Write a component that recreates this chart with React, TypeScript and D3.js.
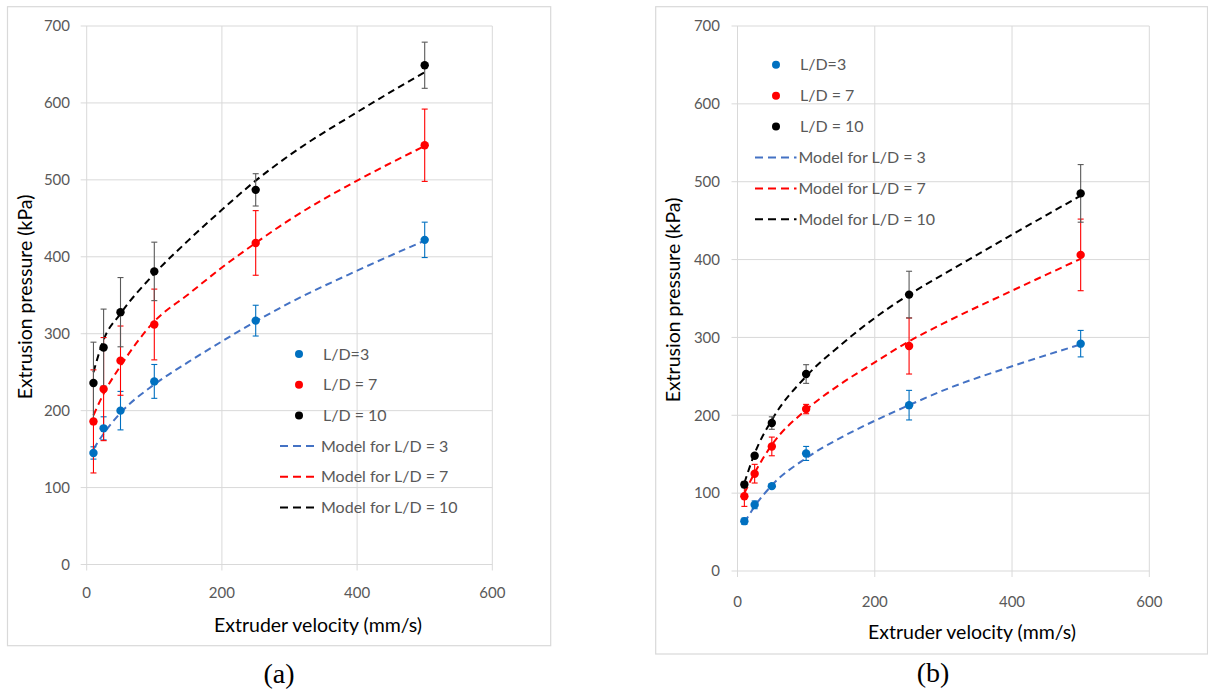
import React from "react";
import * as d3 from "d3";

// ---------- data ----------
const velocities = [10, 25, 50, 100, 250, 500];
const modelVelocities = [10, 25, 50, 100, 150, 200, 250, 300, 400, 500];

const xTicks = [0, 200, 400, 600];
const yTicks = [0, 100, 200, 300, 400, 500, 600, 700];

const legendLabels = ["L/D=3", "L/D = 7", "L/D = 10", "Model for L/D = 3", "Model for L/D = 7", "Model for L/D = 10"];

// panel (a)
const aLD3 = [145, 177, 200, 238, 317, 422];
const aLD3Err = [8, 15, 25, 22, 20, 23];
const aLD7 = [186, 228, 265, 312, 418, 545];
const aLD7Err = [67, 67, 45, 46, 42, 47];
const aLD10 = [236, 282, 328, 381, 487, 649];
const aLD10Err = [53, 50, 45, 38, 21, 30];
const aModel3 = [150, 170, 197, 234, 263, 290, 316, 340, 382, 421];
const aModel7 = [194, 222, 258, 316, 351, 386, 418, 448, 499, 544];
const aModel10 = [250, 292, 326, 378, 421, 461, 499, 532, 588, 640];

// panel (b)
const bLD3 = [64, 85, 109, 151, 213, 292];
const bLD3Err = [4, 5, 3, 9, 19, 17];
const bLD7 = [96, 125, 160, 208, 289, 406];
const bLD7Err = [13, 12, 12, 6, 36, 46];
const bLD10 = [111, 148, 190, 253, 355, 485];
const bLD10Err = [4, 3, 8, 12, 30, 37];
const bModel3 = [62, 83, 110, 145, 171, 193, 213, 232, 263, 291];
const bModel7 = [100, 126, 162, 207, 240, 268, 295, 318, 360, 401];
const bModel10 = [113, 151, 194, 250, 290, 325, 355, 381, 432, 482];

// ---------- styles ----------
const pointColors = ["#0070C0", "#FF0000", "#000000"];
const errColors = ["#0070C0", "#FF0000", "#595959"];
const modelColors = ["#4472C4", "#FF0000", "#000000"];
const FONT = "Lato, 'Open Sans', sans-serif";

type PanelCfg = {
  frame: [number, number, number, number];
  plot: { left: number; right: number; top: number; bottom: number };
  xLabelY: number;
  yLabelX: number;
  xTitle: [number, number];
  yTitle: [number, number];
  legend: { markerX: number; lineX0: number; lineX1: number; textX: number; y0: number; dy: number };
  caption: [string, number, number];
  pts: number[][];
  errs: number[][];
  models: number[][];
};

const panels: PanelCfg[] = [
  {
    frame: [7.5, 6.7, 550.7, 645.7],
    plot: { left: 86.7, right: 492.3, top: 26, bottom: 564.5 },
    xLabelY: 593,
    yLabelX: 70,
    xTitle: [318, 625],
    yTitle: [25, 297],
    legend: { markerX: 299, lineX0: 280, lineX1: 319, textX: 323, y0: 354, dy: 30.7 },
    caption: ["(a)", 279, 673],
    pts: [aLD3, aLD7, aLD10],
    errs: [aLD3Err, aLD7Err, aLD10Err],
    models: [aModel3, aModel7, aModel10],
  },
  {
    frame: [655.7, 6.7, 1207.5, 654],
    plot: { left: 737.5, right: 1149.3, top: 26, bottom: 571 },
    xLabelY: 601.5,
    yLabelX: 720,
    xTitle: [972, 632],
    yTitle: [672.7, 300],
    legend: { markerX: 776, lineX0: 755, lineX1: 796.5, textX: 800, y0: 64.8, dy: 30.9 },
    caption: ["(b)", 933, 672],
    pts: [bLD3, bLD7, bLD10],
    errs: [bLD3Err, bLD7Err, bLD10Err],
    models: [bModel3, bModel7, bModel10],
  },
];

function Panel({ cfg }: { cfg: PanelCfg }) {
  const { plot } = cfg;
  const x = d3.scaleLinear().domain([0, 600]).range([plot.left, plot.right]);
  const y = d3.scaleLinear().domain([0, 700]).range([plot.bottom, plot.top]);
  const line = d3
    .line<number>()
    .x((_, i) => x(modelVelocities[i]))
    .y((d) => y(d))
    .curve(d3.curveMonotoneX);
  const [fx0, fy0, fx1, fy1] = cfg.frame;
  const lg = cfg.legend;
  return (
    <g>
      <rect x={fx0} y={fy0} width={fx1 - fx0} height={fy1 - fy0} fill="#fff" stroke="#D9D9D9" strokeWidth={1.2} />
      {/* gridlines */}
      {yTicks.map((t) => (
        <line key={"gy" + t} x1={plot.left - 6} x2={plot.right} y1={y(t)} y2={y(t)} stroke="#D9D9D9" strokeWidth={1} />
      ))}
      {xTicks.map((t) => (
        <line key={"gx" + t} x1={x(t)} x2={x(t)} y1={plot.top} y2={plot.bottom + 6} stroke="#D9D9D9" strokeWidth={1} />
      ))}
      {/* tick labels */}
      {yTicks.map((t) => (
        <text key={"ly" + t} x={cfg.yLabelX} y={y(t)} dy="0.35em" textAnchor="end" fontFamily={FONT} fontSize={15} fill="#595959">
          {t}
        </text>
      ))}
      {xTicks.map((t) => (
        <text key={"lx" + t} x={x(t)} y={cfg.xLabelY} dy="0.35em" textAnchor="middle" fontFamily={FONT} fontSize={15} fill="#595959">
          {t}
        </text>
      ))}
      {/* titles */}
      <text x={cfg.xTitle[0]} y={cfg.xTitle[1]} dy="0.35em" textAnchor="middle" fontFamily={FONT} fontSize={19.5} fill="#000">
        Extruder velocity (mm/s)
      </text>
      <text
        transform={`translate(${cfg.yTitle[0]},${cfg.yTitle[1]}) rotate(-90)`}
        dy="0.35em"
        textAnchor="middle"
        fontFamily={FONT}
        fontSize={19.5}
        fill="#000"
      >
        Extrusion pressure (kPa)
      </text>
      {/* model lines */}
      {cfg.models.map((m, k) => (
        <path key={"m" + k} d={line(m) || ""} fill="none" stroke={modelColors[k]} strokeWidth={2} strokeDasharray="7,4.5" />
      ))}
      {/* error bars */}
      {cfg.pts.map((s, k) =>
        s.map((v, i) => {
          const e = cfg.errs[k][i];
          const cx = x(velocities[i]);
          return (
            <g key={"e" + k + "-" + i} stroke={errColors[k]} strokeWidth={1.1}>
              <line x1={cx} x2={cx} y1={y(v + e)} y2={y(v - e)} />
              <line x1={cx - 3} x2={cx + 3} y1={y(v + e)} y2={y(v + e)} />
              <line x1={cx - 3} x2={cx + 3} y1={y(v - e)} y2={y(v - e)} />
            </g>
          );
        })
      )}
      {/* points */}
      {cfg.pts.map((s, k) =>
        s.map((v, i) => <circle key={"p" + k + "-" + i} cx={x(velocities[i])} cy={y(v)} r={4.2} fill={pointColors[k]} />)
      )}
      {/* legend */}
      {legendLabels.map((lab, i) => {
        const ly = lg.y0 + i * lg.dy;
        return (
          <g key={"lg" + i}>
            {i < 3 ? (
              <circle cx={lg.markerX} cy={ly} r={4} fill={pointColors[i]} />
            ) : (
              <line x1={lg.lineX0} x2={lg.lineX1} y1={ly} y2={ly} stroke={modelColors[i - 3]} strokeWidth={2} strokeDasharray="8,5" />
            )}
            <text x={i < 3 ? lg.textX : lg.lineX1 + 2} y={ly} dy="0.35em" fontFamily={FONT} fontSize={16} fill="#595959">
              {lab}
            </text>
          </g>
        );
      })}
      <text x={cfg.caption[1]} y={cfg.caption[2]} dy="0.35em" textAnchor="middle" fontFamily="'Liberation Serif', 'Times New Roman', serif" fontSize={28} fill="#000">
        {cfg.caption[0]}
      </text>
    </g>
  );
}

export default function App() {
  return (
    <svg width={1208} height={693} style={{ position: "absolute", left: 0, top: 0, background: "#fff" }}>
      <rect x={0} y={0} width={1208} height={693} fill="#fff" />
      {panels.map((p, i) => (
        <Panel key={i} cfg={p} />
      ))}
    </svg>
  );
}
